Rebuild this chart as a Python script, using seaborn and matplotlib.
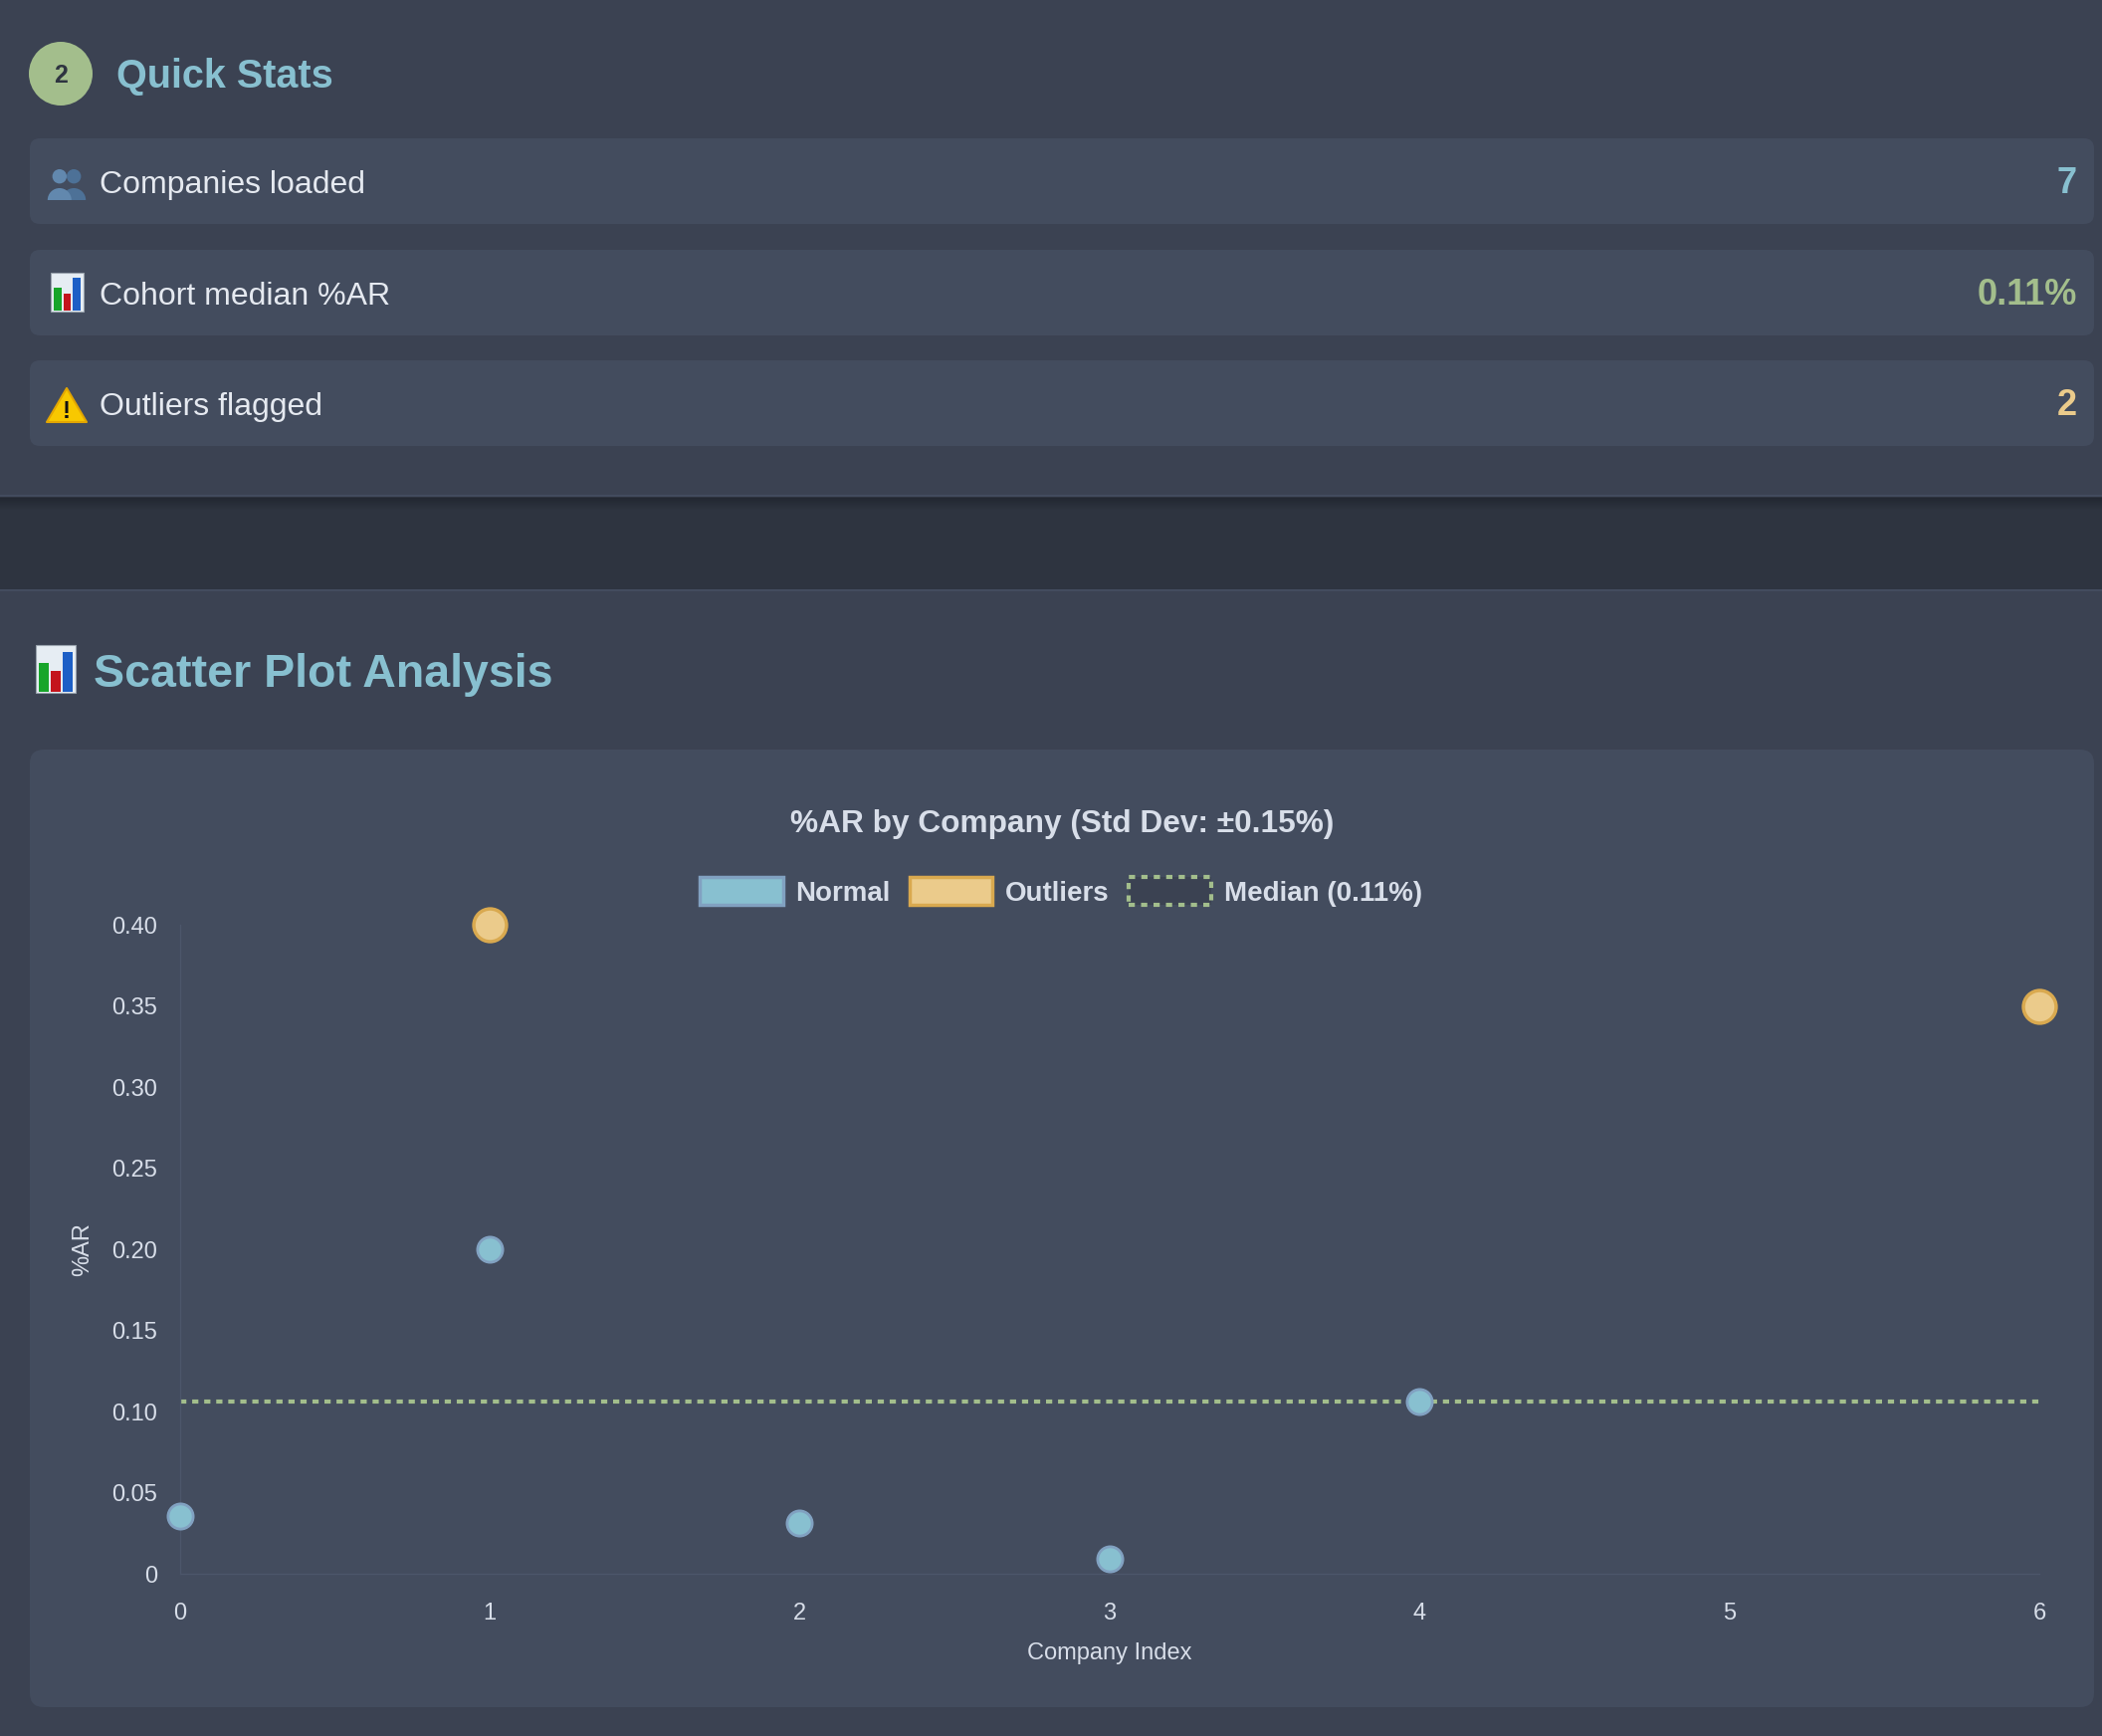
import numpy as np
import pandas as pd
import seaborn as sns
import matplotlib.pyplot as plt
from matplotlib.patches import FancyBboxPatch, Rectangle, Circle, Wedge, Polygon, Patch

# ==== values
normal_idx = [0, 1, 2, 3, 4]
normal_ar = [0.0355, 0.200, 0.031, 0.009, 0.106]
outlier_idx = [1, 6]
outlier_ar = [0.400, 0.350]
std_dev = 0.15
x_ticks = [0, 1, 2, 3, 4, 5, 6]
y_ticks = [0, 0.05, 0.10, 0.15, 0.20, 0.25, 0.30, 0.35, 0.40]

stat_labels = ['Companies loaded', 'Cohort median %AR', 'Outliers flagged']

median_ar = float(np.median(normal_ar + outlier_ar))
stat_values = [str(len(normal_ar) + len(outlier_ar)), f'{median_ar:.2f}%', str(len(outlier_ar))]

# ==== colours (nord-ish dark theme)
PAGE = '#3b4252'
CARD = '#434c5e'
BAND = '#2e3440'
FROST = '#88c0d0'
NORMAL_EDGE = '#81a1c1'
YELLOW = '#ebcb8b'
YELLOW_EDGE = '#d9a94f'
GREEN = '#a3be8c'
TEXT = '#e5e9f0'
SUB = '#d8dee9'
AXIS = '#4c566a'

W, H = 2112, 1744

sns.set_style('dark', {'axes.facecolor': 'none', 'figure.facecolor': PAGE})
plt.rcParams['font.family'] = ['Liberation Sans', 'DejaVu Sans']

fig = plt.figure(figsize=(W / 100, H / 100), dpi=100)

# background layer in pixel coordinates (y down)
bg = fig.add_axes([0, 0, 1, 1], zorder=0)
bg.set_xlim(0, W)
bg.set_ylim(H, 0)
bg.axis('off')

bg.add_patch(Rectangle((0, 0), W, 499, facecolor=PAGE, lw=0))
bg.add_patch(Rectangle((0, 499), W, 93, facecolor=BAND, lw=0))
for i in range(12):
    bg.add_patch(Rectangle((0, 500 + i), W, 1, facecolor='#1c2029', alpha=0.6 * (1 - i / 12), lw=0))
bg.add_patch(Rectangle((0, 592), W, H - 592, facecolor=PAGE, lw=0))
bg.add_patch(Rectangle((0, 497), W, 2, facecolor='#434c5e', lw=0))
bg.add_patch(Rectangle((0, 592), W, 2, facecolor='#434c5e', lw=0))


def chart_icon(x0, y0, w, h):
    bg.add_patch(Rectangle((x0, y0), w, h, facecolor='#e6edf3', edgecolor='#9aa4ae', lw=0.8))
    bars = [(0.08, 0.62, '#17a52a'), (0.38, 0.46, '#c4141c'), (0.68, 0.86, '#1d5fc6')]
    for bx, bh, c in bars:
        bg.add_patch(Rectangle((x0 + bx * w, y0 + h * (1 - bh)), 0.24 * w, bh * h - 1,
                               facecolor=c, lw=0))


def people_icon(x0, y0, w, h):
    for cx, col in [(x0 + 0.68 * w, '#4d7197'), (x0 + 0.32 * w, '#6288ae')]:
        bg.add_patch(Wedge((cx, y0 + h), 0.3 * w, 180, 360, facecolor=col, lw=0))
        bg.add_patch(Circle((cx, y0 + 0.3 * h), 0.18 * w, facecolor=col, lw=0))


def warn_icon(x0, y0, w, h):
    bg.add_patch(Polygon([(x0 + w / 2, y0), (x0, y0 + h), (x0 + w, y0 + h)], closed=True,
                         facecolor='#f8c800', edgecolor='#e3a600', lw=1.5, joinstyle='round'))
    bg.text(x0 + w / 2, y0 + h - 4, '!', color='#111111', fontsize=17, fontweight='bold',
            ha='center', va='baseline')


# ==== Quick Stats header
bg.add_patch(Circle((61, 74), 32, facecolor=GREEN, lw=0))
bg.text(61, 83, '2', color=BAND, fontsize=18, fontweight='bold', ha='center', va='baseline')
bg.text(117, 88, 'Quick Stats', color=FROST, fontsize=28.5, fontweight='bold', va='baseline')

row_tops = [139, 251, 362]
value_colors = [FROST, GREEN, YELLOW]
icons = [people_icon, chart_icon, warn_icon]
for top, label, val, vc, icon in zip(row_tops, stat_labels, stat_values, value_colors, icons):
    bg.add_patch(FancyBboxPatch((30, top), 2074, 86, boxstyle='round,pad=0,rounding_size=10',
                                facecolor=CARD, lw=0))
    base = top + 55
    bg.text(100, base, label, color=TEXT, fontsize=23, va='baseline')
    bg.text(2087, base, val, color=vc, fontsize=26, fontweight='bold', ha='right', va='baseline')
    if icon is chart_icon:
        icon(51, top + 23, 33, 39)
    else:
        icon(47, top + 28, 40, 34)

# ==== Scatter section header
chart_icon(36, 648, 40, 48)
bg.text(94, 690, 'Scatter Plot Analysis', color=FROST, fontsize=33.5, fontweight='bold', va='baseline')

bg.add_patch(FancyBboxPatch((30, 753), 2074, 962, boxstyle='round,pad=0,rounding_size=14',
                            facecolor=CARD, lw=0))
bg.text(1067, 836, f'%AR by Company (Std Dev: ±{std_dev:.2f}%)', color=SUB, fontsize=22.8,
        fontweight='bold', ha='center', va='baseline')

# ==== the scatter chart
left, right, top, bottom = 180.5, 2049, 929, 1581
ax = fig.add_axes([left / W, 1 - bottom / H, (right - left) / W, (bottom - top) / H], zorder=1)
ax.set_facecolor('none')

df_norm = pd.DataFrame({'Company Index': normal_idx, '%AR': normal_ar})
df_out = pd.DataFrame({'Company Index': outlier_idx, '%AR': outlier_ar})

ax.axhline(median_ar, color=GREEN, lw=3, dashes=(1.5, 1.4), dash_capstyle='butt', zorder=2)
sns.scatterplot(data=df_norm, x='Company Index', y='%AR', s=330, color=FROST,
                edgecolor=NORMAL_EDGE, linewidth=2, clip_on=False, zorder=3, ax=ax)
sns.scatterplot(data=df_out, x='Company Index', y='%AR', s=560, color=YELLOW,
                edgecolor=YELLOW_EDGE, linewidth=2.5, clip_on=False, zorder=3, ax=ax)

ax.set_xlim(0, 6)
ax.set_ylim(0, 0.4)
ax.set_xticks(x_ticks)
ax.set_yticks(y_ticks)
ax.set_yticklabels(['0' if v == 0 else f'{v:.2f}' for v in y_ticks])
ax.tick_params(axis='both', length=0, labelsize=17, labelcolor=SUB)
ax.tick_params(axis='y', pad=16)
ax.tick_params(axis='x', pad=21)
ax.grid(False)
for side in ['top', 'right']:
    ax.spines[side].set_visible(False)
for side in ['left', 'bottom']:
    ax.spines[side].set_visible(True)
    ax.spines[side].set_color(AXIS)
    ax.spines[side].set_linewidth(1)

ax.set_xlabel('Company Index', color=SUB, fontsize=17, va='center')
ax.set_ylabel('%AR', color=SUB, fontsize=17, va='center')
ax.xaxis.set_label_coords(0.5, (bottom - 1661) / (bottom - top))
ax.yaxis.set_label_coords((83.5 - left) / (right - left), 0.5)

handles = [
    Patch(facecolor=FROST, edgecolor=NORMAL_EDGE, lw=2.5, label='Normal'),
    Patch(facecolor=YELLOW, edgecolor=YELLOW_EDGE, lw=2.5, label='Outliers'),
    Patch(facecolor=PAGE, edgecolor=GREEN, lw=3, linestyle=(0, (1.5, 1.5)),
          label=f'Median ({median_ar:.2f}%)'),
]
leg = ax.legend(handles=handles, loc='center', ncol=3, frameon=False,
                bbox_to_anchor=(1066 / W, 1 - 896 / H), bbox_transform=fig.transFigure,
                fontsize=20, handlelength=3.0, handleheight=1.15, handletextpad=0.45,
                columnspacing=0.7, borderpad=0)
for t in leg.get_texts():
    t.set_color(SUB)
    t.set_fontweight('bold')

fig.savefig('out.png', dpi=100, facecolor=PAGE)
